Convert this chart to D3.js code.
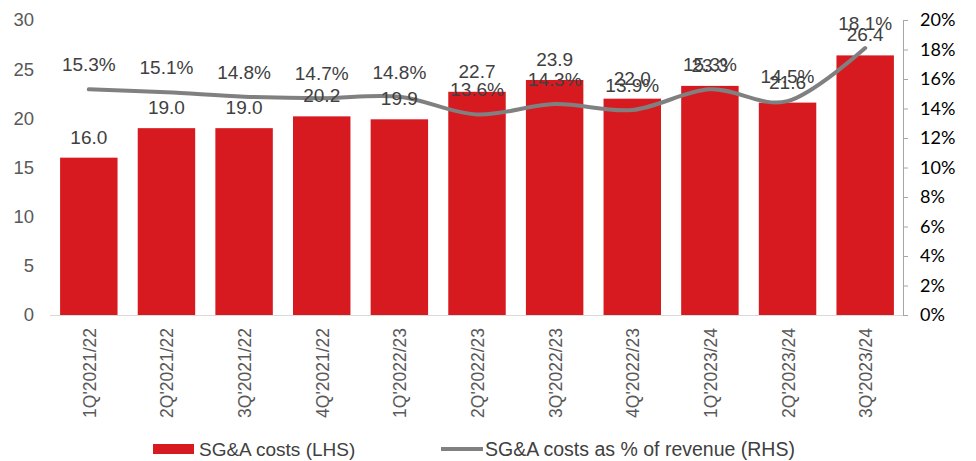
<!DOCTYPE html>
<html>
<head>
<meta charset="utf-8">
<script src="https://cdn.jsdelivr.net/npm/d3@7"></script>
<style>
  body { margin: 0; background: #fff; }
  svg { display: block; font-family: "Liberation Sans", Arial, sans-serif; }
</style>
</head>
<body>
<svg width="976" height="461"></svg>
<script>
// data
const quarters = ["1Q'2021/22", "2Q'2021/22", "3Q'2021/22", "4Q'2021/22", "1Q'2022/23",
                  "2Q'2022/23", "3Q'2022/23", "4Q'2022/23", "1Q'2023/24", "2Q'2023/24", "3Q'2023/24"];
const sgaCosts = [16.0, 19.0, 19.0, 20.2, 19.9, 22.7, 23.9, 22.0, 23.3, 21.6, 26.4];
const sgaPct = [15.3, 15.1, 14.8, 14.7, 14.8, 13.6, 14.3, 13.9, 15.3, 14.5, 18.1];
const leftTicks = [0, 5, 10, 15, 20, 25, 30];
const rightTicks = [0, 2, 4, 6, 8, 10, 12, 14, 16, 18, 20];

const svg = d3.select("svg");
const red = "#D71920", grey = "#808080", txt = "#404040";

let x = d3.scaleBand().domain(quarters).range([50, 904]).paddingInner(0.26).paddingOuter(0.13);
let yL = d3.scaleLinear().domain([0, 30]).range([315, 20]);
let yR = d3.scaleLinear().domain([0, 20]).range([315, 20]);

// left axis (labels only)
let ax = svg.append("g")
    .attr("transform", "translate(34,0)")
    .call(d3.axisLeft(yL).tickValues(leftTicks).tickSize(0).tickPadding(0));
ax.select(".domain").remove();
ax.selectAll("text").attr("font-size", "18.5px").attr("fill", "#595959")
    .attr("font-family", "Liberation Sans, Arial, sans-serif");

// right axis
let axR = svg.append("g")
    .attr("transform", "translate(903,0)")
    .call(d3.axisRight(yR).tickValues(rightTicks).tickSize(5).tickSizeOuter(5).tickPadding(12)
        .tickFormat(d => d + "%"));
axR.select(".domain").attr("stroke", "#a6a6a6");
axR.selectAll("line").attr("stroke", "#a6a6a6");
axR.selectAll("text").attr("font-size", "18px").attr("fill", "#000")
    .attr("font-family", "Lato, Carlito, sans-serif");

// baseline
svg.append("line")
    .attr("x1", 50).attr("x2", 903)
    .attr("y1", yL(0) + 0.5).attr("y2", yL(0) + 0.5)
    .attr("stroke", "#d9d9d9");

// bars
svg.selectAll("rect.bar")
    .data(quarters)
    .enter().append("rect")
    .attr("class", "bar")
    .attr("x", d => x(d))
    .attr("width", x.bandwidth())
    .attr("y", (d, i) => yL(sgaCosts[i]))
    .attr("height", (d, i) => yL(0) - yL(sgaCosts[i]))
    .attr("fill", red);

// smoothed line, excel style
let line = d3.line()
    .x((d, i) => x(quarters[i]) + x.bandwidth() / 2)
    .y(d => yR(d))
    .curve(d3.curveCatmullRom.alpha(0));
svg.append("path")
    .datum(sgaPct)
    .attr("d", line)
    .attr("fill", "none")
    .attr("stroke", grey)
    .attr("stroke-width", 4)
    .attr("stroke-linecap", "round");

// bar value labels
svg.selectAll("text.barlab")
    .data(sgaCosts)
    .enter().append("text")
    .attr("class", "barlab")
    .attr("x", (d, i) => x(quarters[i]) + x.bandwidth() / 2)
    .attr("y", d => yL(d) - 14)
    .attr("text-anchor", "middle")
    .attr("font-size", "19px")
    .attr("fill", txt)
    .text(d => d.toFixed(1));

// percent labels
svg.selectAll("text.pctlab")
    .data(sgaPct)
    .enter().append("text")
    .attr("class", "pctlab")
    .attr("x", (d, i) => x(quarters[i]) + x.bandwidth() / 2)
    .attr("y", d => yR(d) - 18)
    .attr("text-anchor", "middle")
    .attr("font-size", "19px")
    .attr("fill", txt)
    .text(d => d.toFixed(1) + "%");

// x labels, rotated
svg.selectAll("text.xlab")
    .data(quarters)
    .enter().append("text")
    .attr("class", "xlab")
    .attr("transform", d => "translate(" + (x(d) + x.bandwidth() / 2 + 7) + ",328) rotate(-90)")
    .attr("text-anchor", "end")
    .attr("font-size", "17.5px")
    .attr("fill", "#595959")
    .text(d => d);

// legend
let lg = svg.append("g").attr("transform", "translate(0,449)");
lg.append("rect").attr("x", 153).attr("y", -5).attr("width", 41).attr("height", 10).attr("fill", red);
lg.append("text").attr("x", 199).attr("y", 7).attr("font-size", "19px").attr("fill", txt).text("SG&A costs (LHS)");
lg.append("line").attr("x1", 441).attr("x2", 483).attr("y1", 0).attr("y2", 0)
    .attr("stroke", grey).attr("stroke-width", 4);
lg.append("text").attr("x", 485).attr("y", 7).attr("font-size", "19.5px").attr("fill", txt)
    .text("SG&A costs as % of revenue (RHS)");
</script>
</body>
</html>
